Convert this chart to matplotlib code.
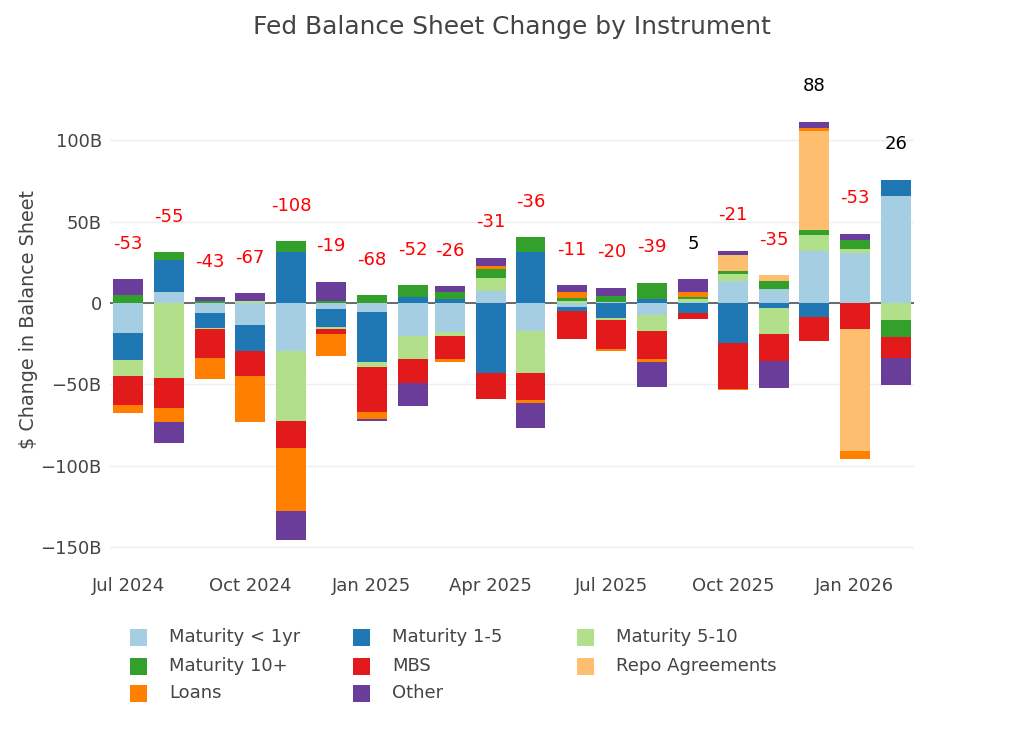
import numpy as np
import pandas as pd
import matplotlib
matplotlib.use("Agg")
import matplotlib.pyplot as plt
import matplotlib.dates as mdates
from matplotlib.patches import Rectangle

plt.rcParams['font.family'] = ['DejaVu Sans']

# ---------------- data ----------------
months = pd.date_range('2024-07-01', periods=20, freq='MS')

maturity_lt1 = [-18.5, 6.6, -6.4, -13.3, -29.3, -3.7, -5.7, -20.1, -18.0, 7.4,
                -17.4, -2.3, 0.8, -7.4, 0.8, 13.8, 8.6, 32.3, 30.7, 65.6]
maturity_1_5 = [-16.5, 19.9, -9.0, -16.0, 31.1, -11.3, -30.5, 3.5, 2.5, -43.2,
                31.6, -2.5, -9.0, 2.5, -6.0, -24.3, -3.3, -8.8, 0.0, 10.3]
maturity_5_10 = [-9.7, -46.3, -0.8, 1.5, -43.4, -0.8, -2.9, -14.5, -2.5, 8.2,
                 -25.6, 1.0, -1.3, -9.7, 1.5, 4.3, -16.0, 9.3, 2.3, -10.3]
maturity_10p = [4.8, 4.7, 1.2, 0.0, 6.8, 1.2, 4.9, 7.6, 4.1, 5.3,
                9.0, 2.0, 3.7, 9.9, 1.7, 1.4, 4.9, 3.5, 5.8, -10.3]
mbs = [-18.2, -18.2, -17.6, -15.6, -16.6, -3.3, -27.9, -14.3, -14.1, -15.8,
       -16.6, -17.4, -18.0, -17.5, -3.5, -28.4, -16.3, -14.6, -16.0, -13.2]
repo = [0.0, 0.0, 0.0, 0.0, 0.0, 0.0, 0.0, 0.0, 0.0, 0.0,
        0.0, 0.0, 0.0, 0.0, 0.0, 10.3, 3.5, 60.7, -75.1, 0.0]
loans = [-4.8, -8.6, -13.2, -28.3, -38.5, -13.3, -4.3, 0.0, -1.4, 1.6,
         -1.6, 4.1, -1.0, -1.6, 3.0, -0.6, 0.0, 2.1, -4.7, 0.0]
other = [9.9, -13.1, 2.5, 4.5, -18.0, 11.9, -1.4, -14.3, 3.7, 5.3,
         -15.4, 3.7, 4.9, -15.2, 7.5, 2.3, -16.5, 3.7, 3.9, -16.3]

net_change = [-53, -55, -43, -67, -108, -19, -68, -52, -26, -31,
              -36, -11, -20, -39, 5, -21, -35, 88, -53, 26]

series_names = ['Maturity < 1yr', 'Maturity 1-5', 'Maturity 5-10', 'Maturity 10+',
                'MBS', 'Repo Agreements', 'Loans', 'Other']
series_values = [maturity_lt1, maturity_1_5, maturity_5_10, maturity_10p,
                 mbs, repo, loans, other]
series_colors = ['#a6cee3', '#1f78b4', '#b2df8a', '#33a02c',
                 '#e31a1c', '#fdbf6f', '#ff7f00', '#6a3d9a']

y_ticks = [-150, -100, -50, 0, 50, 100]
y_tick_labels = ['\u2212150B', '\u2212100B', '\u221250B', '0', '50B', '100B']
x_tick_dates = pd.to_datetime(['2024-07-01', '2024-10-01', '2025-01-01', '2025-04-01',
                               '2025-07-01', '2025-10-01', '2026-01-01'])

# ---------------- figure ----------------
W, H = 1024, 732
fig = plt.figure(figsize=(W / 100, H / 100), dpi=100)
ax = fig.add_axes([110 / W, 1 - 560 / H, 804 / W, 489.5 / H])

TXT = '#444444'
bar_w = 22.6  # days
pos_base = np.zeros(len(months))
neg_base = np.zeros(len(months))
for name, vals, col in zip(series_names, series_values, series_colors):
    v = np.asarray(vals, dtype=float)
    bottoms = np.where(v >= 0, pos_base, neg_base)
    ax.bar(months, v, bottom=bottoms, width=bar_w, color=col, linewidth=0,
           zorder=3, label=name)
    pos_base = pos_base + np.where(v > 0, v, 0)
    neg_base = neg_base + np.where(v < 0, v, 0)

for d, top, tot in zip(months, pos_base, net_change):
    ax.annotate(f'{tot}', xy=(d, top), xytext=(0, 25.5), textcoords='offset points',
                ha='center', va='center', fontsize=13,
                color='#ff0000' if tot < 0 else 'black', zorder=5,
                annotation_clip=False)

half = pd.Timedelta(days=13.7)
ax.set_xlim(months[0] - half, months[-1] + half)
ax.set_ylim(-158, 143)

for s in ax.spines.values():
    s.set_visible(False)
ax.set_axisbelow(True)
ax.set_yticks(y_ticks)
ax.set_yticklabels(y_tick_labels)
ax.set_xticks(x_tick_dates)
ax.set_xticklabels([d.strftime('%b %Y') for d in x_tick_dates])
ax.tick_params(axis='both', length=0, labelsize=13, colors=TXT)
ax.tick_params(axis='y', pad=6)
ax.tick_params(axis='x', pad=12)
ax.grid(axis='y', color='#eeeeee', linewidth=1)
ax.axhline(0, color='#444444', linewidth=1.1, zorder=2)

ax.set_ylabel('$ Change in Balance Sheet', fontsize=13.8, color=TXT)
ax.yaxis.set_label_coords(-0.09, 0.491)

fig.text(512 / W, 1 - 27 / H, 'Fed Balance Sheet Change by Instrument',
         ha='center', va='center', fontsize=17.9, color=TXT)

# ---------------- legend (plotly-like, row-wise) ----------------
col_x = [130, 353, 577]
row_y = [637, 666, 693]
sw = 17
for i, (name, col) in enumerate(zip(series_names, series_colors)):
    r, c = divmod(i, 3)
    x0, yc = col_x[c], row_y[r]
    fig.patches.append(Rectangle((x0 / W, 1 - (yc + sw / 2) / H), sw / W, sw / H,
                                 transform=fig.transFigure, facecolor=col,
                                 edgecolor='none'))
    fig.text((x0 + 39) / W, 1 - yc / H, name, ha='left', va='center',
             fontsize=13, color=TXT)

fig.savefig('out.png', dpi=100, facecolor='white')
